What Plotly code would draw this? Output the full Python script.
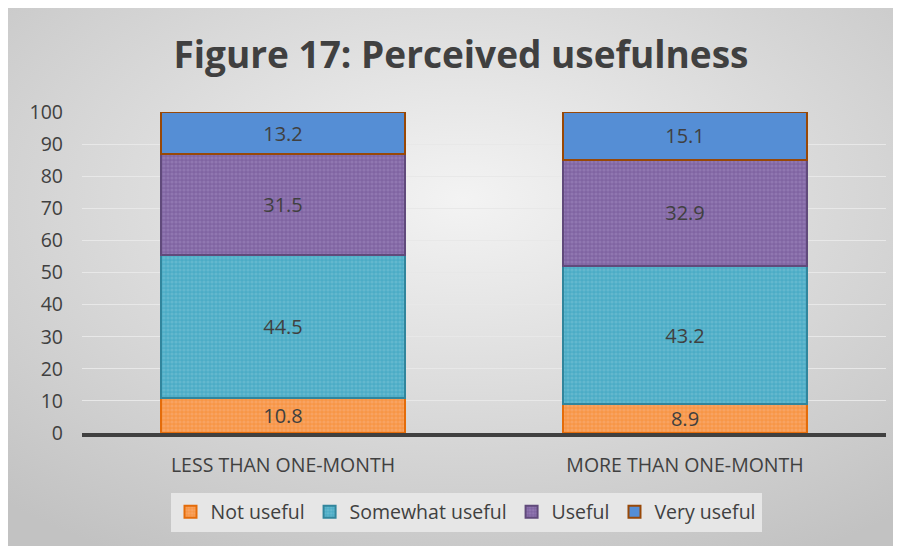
import base64
import plotly.graph_objects as go

categories = ["LESS THAN ONE-MONTH", "MORE THAN ONE-MONTH"]
not_useful = [10.8, 8.9]
somewhat_useful = [44.5, 43.2]
useful = [31.5, 32.9]
very_useful = [13.2, 15.1]
y_ticks = list(range(0, 101, 10))

W, H = 910, 546
OFF = 8  # page body margin
L, R, T, B = 82 - OFF, W - (886 - OFF), 112 - OFF, H - (433 - OFF)
pw, ph = W - L - R, H - T - B

def px_x(p):
    return (p - OFF - L) / pw

def px_y(p):
    return (H - B - (p - OFF)) / ph

svg = f'''<svg xmlns="http://www.w3.org/2000/svg" width="{W}" height="{H}" viewBox="0 0 {W} {H}" preserveAspectRatio="none">
<defs><radialGradient id="g" cx="50%" cy="35%" r="75%">
<stop offset="0" stop-color="#f3f3f3"/><stop offset="1" stop-color="#c2c2c2"/></radialGradient></defs>
<rect width="{W}" height="{H}" fill="url(#g)"/></svg>'''
src = "data:image/svg+xml;base64," + base64.b64encode(svg.encode()).decode()

fig = go.Figure()

series = [
    ("Not useful", not_useful, "#F79646", "#F9B07E", "#E46C0A", "."),
    ("Somewhat useful", somewhat_useful, "#4BACC6", "#7CC3D6", "#31859C", "."),
    ("Useful", useful, "#8064A2", "#A08AC0", "#604A7B", "."),
    ("Very useful", very_useful, "#558ED5", None, "#984807", None),
]
for name, vals, col, fg, line, shape in series:
    marker = dict(color=col, line=dict(color=line, width=2))
    if shape:
        marker["pattern"] = dict(shape=shape, fgcolor=fg, bgcolor=col, size=4, solidity=0.5, fillmode="overlay")
    fig.add_trace(go.Bar(
        name=name, x=categories, y=vals, marker=marker,
        text=vals, texttemplate="%{y}", textposition="inside",
        insidetextanchor="middle", textangle=0, constraintext="none",
        textfont=dict(size=20, color="#404040", family="Open Sans"),
        hoverinfo="skip",
    ))

fig.update_layout(
    width=W, height=H,
    margin=dict(l=L, r=R, t=T, b=B),
    barmode="stack", bargap=0.393,
    paper_bgcolor="#dcdcdc", plot_bgcolor="rgba(0,0,0,0)",
    font=dict(family="Open Sans", color="#595959"),
    title=dict(text="<b>Figure 17: Perceived usefulness</b>", x=(461 - OFF) / W, xanchor="center",
               xref="container", y=1 - (55 - OFF) / H, yanchor="middle",
               font=dict(size=37, color="#404040", family="Open Sans")),
    yaxis=dict(range=[0, 100], tickvals=y_ticks, showgrid=True, gridcolor="#e8e8e8",
               gridwidth=1, zeroline=False, tickfont=dict(size=19.5, color="#404040"),
               ticks="", ticklabelstandoff=18, fixedrange=True),
    xaxis=dict(showline=True, linecolor="#404040", linewidth=4, ticks="",
               tickfont=dict(size=19.5, color="#404040"), ticklabelstandoff=12),
    legend=dict(orientation="h", x=px_x(466), xanchor="center",
                y=px_y(512), yanchor="middle", traceorder="normal",
                bgcolor="#e6e6e6", font=dict(size=19.5, color="#404040"),
                itemwidth=30, tracegroupgap=0),
    showlegend=True,
    images=[dict(source=src, xref="paper", yref="paper", x=-L / pw, y=1 + T / ph,
                 sizex=W / pw, sizey=H / ph,
                 sizing="stretch", layer="below", xanchor="left", yanchor="top")],
)

fig.write_html("out.html")
